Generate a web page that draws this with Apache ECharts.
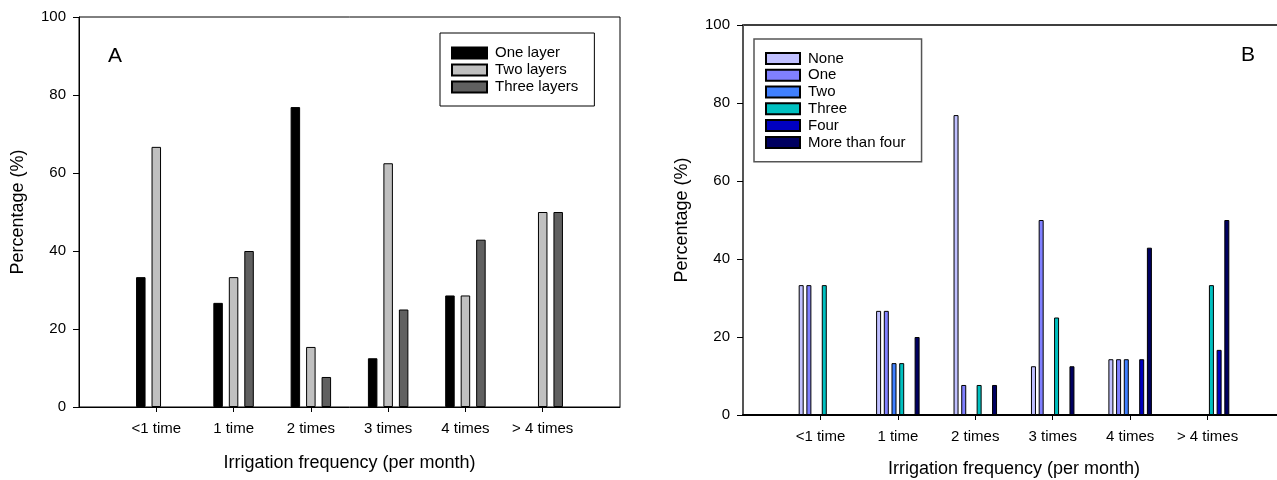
<!DOCTYPE html>
<html><head><meta charset="utf-8">
<script src="https://cdn.jsdelivr.net/npm/echarts@6/dist/echarts.min.js"></script>
<style>html,body{margin:0;padding:0;background:#fff}#c{width:1277px;height:480px}</style>
</head><body><div id="c"></div>
<script>
// ---- data ----
const categories = ['<1 time', '1 time', '2 times', '3 times', '4 times', '> 4 times'];
const yTicks = [0, 20, 40, 60, 80, 100];
// Panel A
const oneLayer    = [33.3, 26.7, 76.9, 12.5, 28.6, 0];
const twoLayers   = [66.7, 33.3, 15.4, 62.5, 28.6, 50];
const threeLayers = [0,    40,   7.7,  25,   42.9, 50];
// Panel B
const none         = [33.3, 26.7, 76.9, 12.5, 14.3, 0];
const one          = [33.3, 26.7, 7.7,  50,   14.3, 0];
const two          = [0,    13.3, 0,    0,    14.3, 0];
const three        = [33.3, 13.3, 7.7,  25,   0,    33.3];
const four         = [0,    0,    0,    0,    14.3, 16.7];
const moreThanFour = [0,    20,   7.7,  12.5, 42.9, 50];

const FONT = 'Liberation Sans, Arial, sans-serif';
// zero-height bars are not drawn in the reference
const pad = a => [null, ...a.map(v => (v === 0 ? '-' : v)), null];
const padCats = ['', ...categories, ''];

function xAxis(gi) {
  return {
    type: 'category', gridIndex: gi, data: padCats, boundaryGap: false,
    axisLine: { lineStyle: { color: '#000', width: gi === 0 ? 1 : 2 } },
    axisTick: { length: 5, interval: i => i > 0 && i < padCats.length - 1, lineStyle: { color: '#000' } },
    axisLabel: { interval: 0, color: '#000', fontSize: 15, fontFamily: FONT, margin: 14 },
    name: 'Irrigation frequency (per month)', nameLocation: 'middle', nameGap: gi === 0 ? 47 : 45,
    nameTextStyle: { color: '#000', fontSize: 18, fontFamily: FONT },
    splitLine: { show: false }
  };
}
function yAxis(gi) {
  return {
    type: 'value', gridIndex: gi, min: yTicks[0], max: yTicks[yTicks.length - 1], interval: yTicks[1] - yTicks[0],
    axisLine: { show: true, lineStyle: { color: gi === 0 ? '#000' : '#555', width: gi === 0 ? 1 : 2 } },
    axisTick: { show: true, length: 6, lineStyle: { color: '#000' } },
    axisLabel: { color: '#000', fontSize: 15, fontFamily: FONT, margin: 13 },
    splitLine: { show: false },
    name: 'Percentage (%)', nameLocation: 'middle', nameGap: 52, nameRotate: 90,
    nameTextStyle: { color: '#000', fontSize: 18, fontFamily: FONT }
  };
}
function bar(name, data, color, gi, w, gap) {
  return {
    type: 'bar', name, data: pad(data), xAxisIndex: gi, yAxisIndex: gi,
    barWidth: w, barGap: gap,
    itemStyle: { color, borderColor: '#000', borderWidth: 1 },
    emphasis: { disabled: true }, animation: false
  };
}

const chart = echarts.init(document.getElementById('c'), null, { renderer: 'canvas' });
chart.setOption({
  backgroundColor: '#fff',
  animation: false,
  title: [
    { text: 'A', left: 108, top: 46, padding: 0, textStyle: { fontSize: 21, fontWeight: 'normal', color: '#000', fontFamily: FONT } },
    { text: 'B', left: 1241, top: 45, padding: 0, textStyle: { fontSize: 21, fontWeight: 'normal', color: '#000', fontFamily: FONT } }
  ],
  grid: [
    { left: 79, top: 17, width: 541, height: 390, show: true, borderColor: '#000', borderWidth: 1, backgroundColor: 'transparent', outerBoundsMode: 'none', containLabel: false },
    { left: 743, top: 25, width: 542, height: 390, show: true, borderColor: '#000', borderWidth: 1.5, backgroundColor: 'transparent', outerBoundsMode: 'none', containLabel: false }
  ],
  xAxis: [xAxis(0), xAxis(1)],
  yAxis: [yAxis(0), yAxis(1)],
  legend: [
    {
      data: ['One layer', 'Two layers', 'Three layers'], orient: 'vertical', left: 440, top: 33,
      itemWidth: 35, itemHeight: 11, itemGap: 0, icon: 'rect',
      padding: [11.5, 16, 10.5, 11], borderColor: '#000', borderWidth: 1,
      textStyle: { fontSize: 15, lineHeight: 17, color: '#000', fontFamily: FONT, padding: [0, 0, 0, 3] },
      selectedMode: false
    },
    {
      data: ['None', 'One', 'Two', 'Three', 'Four', 'More than four'], orient: 'vertical', left: 754, top: 39,
      itemWidth: 34, itemHeight: 11, itemGap: 0, icon: 'rect',
      padding: [11, 16, 11, 11], borderColor: '#555', borderWidth: 1.5,
      textStyle: { fontSize: 15, lineHeight: 16.8, color: '#000', fontFamily: FONT, padding: [0, 0, 0, 3] },
      selectedMode: false
    }
  ],
  series: [
    bar('One layer', oneLayer, '#000000', 0, 9.5, '63%'),
    bar('Two layers', twoLayers, '#c0c0c0', 0, 9.5, '63%'),
    bar('Three layers', threeLayers, '#606060', 0, 9.5, '63%'),
    bar('None', none, '#c0c0ff', 1, 5, '54%'),
    bar('One', one, '#8080ff', 1, 5, '54%'),
    bar('Two', two, '#4080ff', 1, 5, '54%'),
    bar('Three', three, '#00c0c0', 1, 5, '54%'),
    bar('Four', four, '#0000c0', 1, 5, '54%'),
    bar('More than four', moreThanFour, '#000060', 1, 5, '54%')
  ]
});
</script></body></html>
